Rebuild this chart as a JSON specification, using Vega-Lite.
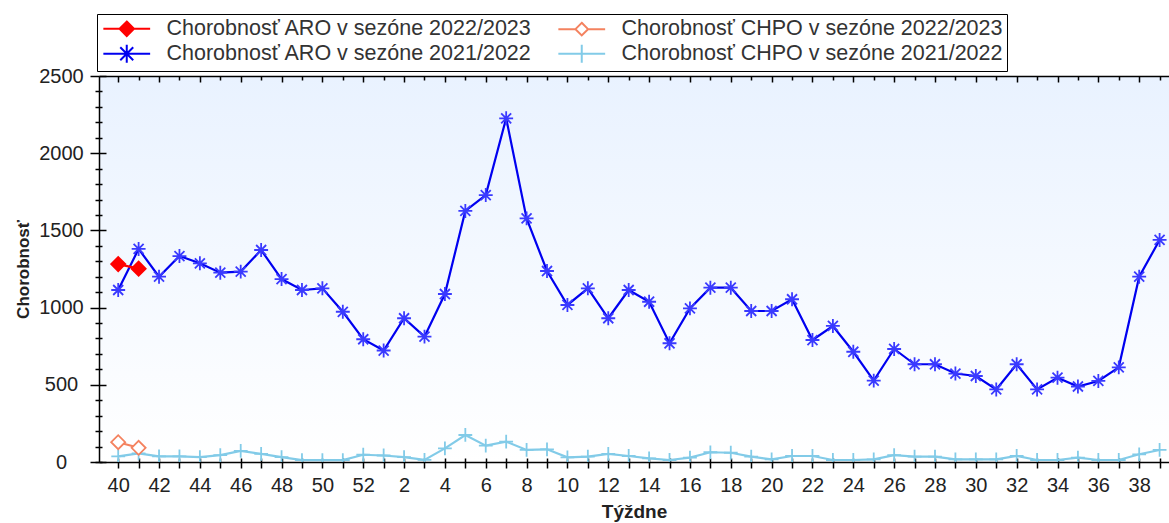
{
  "$schema": "https://vega.github.io/schema/vega-lite/v6.json",
  "width": 1070,
  "height": 386,
  "autosize": {"type": "none"},
  "padding": {"left": 99, "top": 76, "right": 0, "bottom": 61},
  "background": "#ffffff",
  "config": {
    "font": "Liberation Sans",
    "view": {
      "stroke": null,
      "fill": {"gradient": "linear", "x1": 0, "y1": 0, "x2": 0, "y2": 1, "stops": [{"offset": 0, "color": "#e9f2ff"}, {"offset": 1, "color": "#ffffff"}]}
    },
    "axis": {"grid": false, "domainColor": "#000000", "tickColor": "#000000", "domainWidth": 1.5, "tickWidth": 1.5, "labelColor": "#222222", "titleColor": "#222222", "labelFont": "Liberation Sans", "titleFont": "Liberation Sans"}
  },
  "data": {"values": [
    {"i":0,"week":40,"series":"Chorobnosť CHPO v sezóne 2021/2022","value":37},
    {"i":1,"week":41,"series":"Chorobnosť CHPO v sezóne 2021/2022","value":56},
    {"i":2,"week":42,"series":"Chorobnosť CHPO v sezóne 2021/2022","value":37},
    {"i":3,"week":43,"series":"Chorobnosť CHPO v sezóne 2021/2022","value":37},
    {"i":4,"week":44,"series":"Chorobnosť CHPO v sezóne 2021/2022","value":32},
    {"i":5,"week":45,"series":"Chorobnosť CHPO v sezóne 2021/2022","value":45},
    {"i":6,"week":46,"series":"Chorobnosť CHPO v sezóne 2021/2022","value":72},
    {"i":7,"week":47,"series":"Chorobnosť CHPO v sezóne 2021/2022","value":53},
    {"i":8,"week":48,"series":"Chorobnosť CHPO v sezóne 2021/2022","value":32},
    {"i":9,"week":49,"series":"Chorobnosť CHPO v sezóne 2021/2022","value":12},
    {"i":10,"week":50,"series":"Chorobnosť CHPO v sezóne 2021/2022","value":12},
    {"i":11,"week":51,"series":"Chorobnosť CHPO v sezóne 2021/2022","value":12},
    {"i":12,"week":52,"series":"Chorobnosť CHPO v sezóne 2021/2022","value":47},
    {"i":13,"week":1,"series":"Chorobnosť CHPO v sezóne 2021/2022","value":42},
    {"i":14,"week":2,"series":"Chorobnosť CHPO v sezóne 2021/2022","value":32},
    {"i":15,"week":3,"series":"Chorobnosť CHPO v sezóne 2021/2022","value":14},
    {"i":16,"week":4,"series":"Chorobnosť CHPO v sezóne 2021/2022","value":88},
    {"i":17,"week":5,"series":"Chorobnosť CHPO v sezóne 2021/2022","value":175},
    {"i":18,"week":6,"series":"Chorobnosť CHPO v sezóne 2021/2022","value":106},
    {"i":19,"week":7,"series":"Chorobnosť CHPO v sezóne 2021/2022","value":132},
    {"i":20,"week":8,"series":"Chorobnosť CHPO v sezóne 2021/2022","value":78},
    {"i":21,"week":9,"series":"Chorobnosť CHPO v sezóne 2021/2022","value":82},
    {"i":22,"week":10,"series":"Chorobnosť CHPO v sezóne 2021/2022","value":30},
    {"i":23,"week":11,"series":"Chorobnosť CHPO v sezóne 2021/2022","value":35},
    {"i":24,"week":12,"series":"Chorobnosť CHPO v sezóne 2021/2022","value":52},
    {"i":25,"week":13,"series":"Chorobnosť CHPO v sezóne 2021/2022","value":39},
    {"i":26,"week":14,"series":"Chorobnosť CHPO v sezóne 2021/2022","value":24},
    {"i":27,"week":15,"series":"Chorobnosť CHPO v sezóne 2021/2022","value":13},
    {"i":28,"week":16,"series":"Chorobnosť CHPO v sezóne 2021/2022","value":28},
    {"i":29,"week":17,"series":"Chorobnosť CHPO v sezóne 2021/2022","value":63},
    {"i":30,"week":18,"series":"Chorobnosť CHPO v sezóne 2021/2022","value":60},
    {"i":31,"week":19,"series":"Chorobnosť CHPO v sezóne 2021/2022","value":35},
    {"i":32,"week":20,"series":"Chorobnosť CHPO v sezóne 2021/2022","value":17},
    {"i":33,"week":21,"series":"Chorobnosť CHPO v sezóne 2021/2022","value":39},
    {"i":34,"week":22,"series":"Chorobnosť CHPO v sezóne 2021/2022","value":39},
    {"i":35,"week":23,"series":"Chorobnosť CHPO v sezóne 2021/2022","value":13},
    {"i":36,"week":24,"series":"Chorobnosť CHPO v sezóne 2021/2022","value":13},
    {"i":37,"week":25,"series":"Chorobnosť CHPO v sezóne 2021/2022","value":17},
    {"i":38,"week":26,"series":"Chorobnosť CHPO v sezóne 2021/2022","value":45},
    {"i":39,"week":27,"series":"Chorobnosť CHPO v sezóne 2021/2022","value":35},
    {"i":40,"week":28,"series":"Chorobnosť CHPO v sezóne 2021/2022","value":35},
    {"i":41,"week":29,"series":"Chorobnosť CHPO v sezóne 2021/2022","value":17},
    {"i":42,"week":30,"series":"Chorobnosť CHPO v sezóne 2021/2022","value":17},
    {"i":43,"week":31,"series":"Chorobnosť CHPO v sezóne 2021/2022","value":17},
    {"i":44,"week":32,"series":"Chorobnosť CHPO v sezóne 2021/2022","value":39},
    {"i":45,"week":33,"series":"Chorobnosť CHPO v sezóne 2021/2022","value":13},
    {"i":46,"week":34,"series":"Chorobnosť CHPO v sezóne 2021/2022","value":13},
    {"i":47,"week":35,"series":"Chorobnosť CHPO v sezóne 2021/2022","value":28},
    {"i":48,"week":36,"series":"Chorobnosť CHPO v sezóne 2021/2022","value":13},
    {"i":49,"week":37,"series":"Chorobnosť CHPO v sezóne 2021/2022","value":13},
    {"i":50,"week":38,"series":"Chorobnosť CHPO v sezóne 2021/2022","value":50},
    {"i":51,"week":39,"series":"Chorobnosť CHPO v sezóne 2021/2022","value":78},
    {"i":0,"week":40,"series":"Chorobnosť ARO v sezóne 2021/2022","value":1114},
    {"i":1,"week":41,"series":"Chorobnosť ARO v sezóne 2021/2022","value":1380},
    {"i":2,"week":42,"series":"Chorobnosť ARO v sezóne 2021/2022","value":1200},
    {"i":3,"week":43,"series":"Chorobnosť ARO v sezóne 2021/2022","value":1334},
    {"i":4,"week":44,"series":"Chorobnosť ARO v sezóne 2021/2022","value":1287},
    {"i":5,"week":45,"series":"Chorobnosť ARO v sezóne 2021/2022","value":1226},
    {"i":6,"week":46,"series":"Chorobnosť ARO v sezóne 2021/2022","value":1233},
    {"i":7,"week":47,"series":"Chorobnosť ARO v sezóne 2021/2022","value":1373},
    {"i":8,"week":48,"series":"Chorobnosť ARO v sezóne 2021/2022","value":1185},
    {"i":9,"week":49,"series":"Chorobnosť ARO v sezóne 2021/2022","value":1114},
    {"i":10,"week":50,"series":"Chorobnosť ARO v sezóne 2021/2022","value":1125},
    {"i":11,"week":51,"series":"Chorobnosť ARO v sezóne 2021/2022","value":973},
    {"i":12,"week":52,"series":"Chorobnosť ARO v sezóne 2021/2022","value":795},
    {"i":13,"week":1,"series":"Chorobnosť ARO v sezóne 2021/2022","value":722},
    {"i":14,"week":2,"series":"Chorobnosť ARO v sezóne 2021/2022","value":931},
    {"i":15,"week":3,"series":"Chorobnosť ARO v sezóne 2021/2022","value":812},
    {"i":16,"week":4,"series":"Chorobnosť ARO v sezóne 2021/2022","value":1088},
    {"i":17,"week":5,"series":"Chorobnosť ARO v sezóne 2021/2022","value":1626},
    {"i":18,"week":6,"series":"Chorobnosť ARO v sezóne 2021/2022","value":1729},
    {"i":19,"week":7,"series":"Chorobnosť ARO v sezóne 2021/2022","value":2226},
    {"i":20,"week":8,"series":"Chorobnosť ARO v sezóne 2021/2022","value":1578},
    {"i":21,"week":9,"series":"Chorobnosť ARO v sezóne 2021/2022","value":1237},
    {"i":22,"week":10,"series":"Chorobnosť ARO v sezóne 2021/2022","value":1017},
    {"i":23,"week":11,"series":"Chorobnosť ARO v sezóne 2021/2022","value":1125},
    {"i":24,"week":12,"series":"Chorobnosť ARO v sezóne 2021/2022","value":931},
    {"i":25,"week":13,"series":"Chorobnosť ARO v sezóne 2021/2022","value":1114},
    {"i":26,"week":14,"series":"Chorobnosť ARO v sezóne 2021/2022","value":1038},
    {"i":27,"week":15,"series":"Chorobnosť ARO v sezóne 2021/2022","value":769},
    {"i":28,"week":16,"series":"Chorobnosť ARO v sezóne 2021/2022","value":995},
    {"i":29,"week":17,"series":"Chorobnosť ARO v sezóne 2021/2022","value":1129},
    {"i":30,"week":18,"series":"Chorobnosť ARO v sezóne 2021/2022","value":1129},
    {"i":31,"week":19,"series":"Chorobnosť ARO v sezóne 2021/2022","value":978},
    {"i":32,"week":20,"series":"Chorobnosť ARO v sezóne 2021/2022","value":978},
    {"i":33,"week":21,"series":"Chorobnosť ARO v sezóne 2021/2022","value":1054},
    {"i":34,"week":22,"series":"Chorobnosť ARO v sezóne 2021/2022","value":790},
    {"i":35,"week":23,"series":"Chorobnosť ARO v sezóne 2021/2022","value":881},
    {"i":36,"week":24,"series":"Chorobnosť ARO v sezóne 2021/2022","value":714},
    {"i":37,"week":25,"series":"Chorobnosť ARO v sezóne 2021/2022","value":527},
    {"i":38,"week":26,"series":"Chorobnosť ARO v sezóne 2021/2022","value":732},
    {"i":39,"week":27,"series":"Chorobnosť ARO v sezóne 2021/2022","value":633},
    {"i":40,"week":28,"series":"Chorobnosť ARO v sezóne 2021/2022","value":633},
    {"i":41,"week":29,"series":"Chorobnosť ARO v sezóne 2021/2022","value":573},
    {"i":42,"week":30,"series":"Chorobnosť ARO v sezóne 2021/2022","value":557},
    {"i":43,"week":31,"series":"Chorobnosť ARO v sezóne 2021/2022","value":470},
    {"i":44,"week":32,"series":"Chorobnosť ARO v sezóne 2021/2022","value":633},
    {"i":45,"week":33,"series":"Chorobnosť ARO v sezóne 2021/2022","value":470},
    {"i":46,"week":34,"series":"Chorobnosť ARO v sezóne 2021/2022","value":546},
    {"i":47,"week":35,"series":"Chorobnosť ARO v sezóne 2021/2022","value":489},
    {"i":48,"week":36,"series":"Chorobnosť ARO v sezóne 2021/2022","value":525},
    {"i":49,"week":37,"series":"Chorobnosť ARO v sezóne 2021/2022","value":613},
    {"i":50,"week":38,"series":"Chorobnosť ARO v sezóne 2021/2022","value":1200},
    {"i":51,"week":39,"series":"Chorobnosť ARO v sezóne 2021/2022","value":1438},
    {"i":0,"week":40,"series":"Chorobnosť CHPO v sezóne 2022/2023","value":128},
    {"i":1,"week":41,"series":"Chorobnosť CHPO v sezóne 2022/2023","value":92},
    {"i":0,"week":40,"series":"Chorobnosť ARO v sezóne 2022/2023","value":1282},
    {"i":1,"week":41,"series":"Chorobnosť ARO v sezóne 2022/2023","value":1252}
  ]},
  "resolve": {"scale": {"shape": "independent", "stroke": "independent", "fill": "independent"}, "axis": {"x": "independent", "y": "independent"}},
  "layer": [
    {
      "mark": {"type": "line", "clip": true},
      "encoding": {
        "x": {"field": "i", "type": "quantitative", "scale": {"domain": [-0.94, 51.46], "nice": false, "zero": false},
          "axis": {"orient": "bottom", "values": [0,2,4,6,8,10,12,14,16,18,20,22,24,26,28,30,32,34,36,38,40,42,44,46,48,50],
            "labelExpr": "(datum.value <= 12 ? datum.value + 40 : datum.value - 12) + ''",
            "labelFontSize": 20, "labelPadding": 7, "tickSize": 6, "labelFlush": false, "labelOverlap": false,
            "title": "Týždne", "titleFontSize": 19, "titleFontWeight": "bold", "titlePadding": 7}},
        "y": {"field": "value", "type": "quantitative", "scale": {"domain": [0, 2500], "nice": false},
          "axis": {"orient": "left", "values": [0, 500, 1000, 1500, 2000, 2500], "format": "d",
            "tickSize": 9, "labelAlign": "center", "labelBaseline": "middle",
            "labelFontSize": 20, "labelPadding": 29, "labelOverlap": false, "labelFlush": false,
            "title": "Chorobnosť", "titleFontSize": 17, "titleFontWeight": "bold", "titlePadding": 6}},
        "color": {"field": "series", "type": "nominal", "legend": null,
          "scale": {"domain": ["Chorobnosť ARO v sezóne 2022/2023", "Chorobnosť CHPO v sezóne 2022/2023", "Chorobnosť ARO v sezóne 2021/2022", "Chorobnosť CHPO v sezóne 2021/2022"],
            "range": ["#ff0000", "#f4825f", "#0000f0", "#82cbe8"]}},
        "strokeWidth": {"field": "series", "type": "nominal", "legend": null,
          "scale": {"domain": ["Chorobnosť ARO v sezóne 2022/2023", "Chorobnosť CHPO v sezóne 2022/2023", "Chorobnosť ARO v sezóne 2021/2022", "Chorobnosť CHPO v sezóne 2021/2022"],
            "range": [2.2, 2.2, 3.6, 3.4]}}
      }
    },
    {
      "mark": {"type": "point", "clip": true, "opacity": 1, "strokeWidth": 1.8},
      "encoding": {
        "x": {"field": "i", "type": "quantitative",
          "axis": {"orient": "top", "values": [0,2,4,6,8,10,12,14,16,18,20,22,24,26,28,30,32,34,36,38,40,42,44,46,48,50],
            "labels": false, "title": null, "tickSize": -6}},
        "y": {"field": "value", "type": "quantitative",
          "axis": {"orient": "left", "values": [0,100,200,300,400,600,700,800,900,1100,1200,1300,1400,1600,1700,1800,1900,2100,2200,2300,2400],
            "labels": false, "title": null, "domain": false, "tickSize": 4}},
        "shape": {"field": "series", "type": "nominal", "legend": null,
          "scale": {"domain": ["Chorobnosť ARO v sezóne 2022/2023", "Chorobnosť CHPO v sezóne 2022/2023", "Chorobnosť ARO v sezóne 2021/2022", "Chorobnosť CHPO v sezóne 2021/2022"],
            "range": ["diamond", "diamond", "M-1,0H1M0,-1V1M-0.72,-0.72L0.72,0.72M-0.72,0.72L0.72,-0.72", "M-1,0H1M0,-1V1"]}},
        "stroke": {"field": "series", "type": "nominal", "legend": null,
          "scale": {"domain": ["Chorobnosť ARO v sezóne 2022/2023", "Chorobnosť CHPO v sezóne 2022/2023", "Chorobnosť ARO v sezóne 2021/2022", "Chorobnosť CHPO v sezóne 2021/2022"],
            "range": ["#ff0000", "#f4825f", "#3a3aff", "#82cbe8"]}},
        "fill": {"field": "series", "type": "nominal", "legend": null,
          "scale": {"domain": ["Chorobnosť ARO v sezóne 2022/2023", "Chorobnosť CHPO v sezóne 2022/2023", "Chorobnosť ARO v sezóne 2021/2022", "Chorobnosť CHPO v sezóne 2021/2022"],
            "range": ["#ff0000", "#ffffff", "#3a3aff", "#82cbe8"]}},
        "size": {"field": "series", "type": "nominal", "legend": null,
          "scale": {"domain": ["Chorobnosť ARO v sezóne 2022/2023", "Chorobnosť CHPO v sezóne 2022/2023", "Chorobnosť ARO v sezóne 2021/2022", "Chorobnosť CHPO v sezóne 2021/2022"],
            "range": [200, 190, 360, 240]}}
      }
    },
    {
      "transform": [{"filter": "datum.i < 0"}],
      "mark": {"type": "point", "opacity": 1, "strokeWidth": 2},
      "encoding": {
        "x": {"field": "i", "type": "quantitative",
          "axis": {"orient": "top", "values": [1,3,5,7,9,11,13,15,17,19,21,23,25,27,29,31,33,35,37,39,41,43,45,47,49,51],
            "labels": false, "title": null, "domain": false, "tickSize": -4}},
        "y": {"field": "value", "type": "quantitative",
          "axis": {"orient": "left", "values": [0, 500, 1000, 1500, 2000, 2500],
            "labels": false, "title": null, "domain": false, "tickSize": -7}},
        "shape": {"field": "series", "type": "nominal",
          "scale": {"domain": ["Chorobnosť ARO v sezóne 2022/2023", "Chorobnosť CHPO v sezóne 2022/2023", "Chorobnosť ARO v sezóne 2021/2022", "Chorobnosť CHPO v sezóne 2021/2022"],
            "range": ["M-2.6,0H2.6M0,-0.8L0.8,0L0,0.8L-0.8,0Z", "M-2.6,0H-0.7M0.7,0H2.6M0,-0.7L0.7,0L0,0.7L-0.7,0Z", "M-2.6,0H2.6M0,-1V1M-0.72,-0.72L0.72,0.72M-0.72,0.72L0.72,-0.72", "M-2.6,0H2.6M0,-1V1"]},
          "legend": {"title": null, "orient": "none", "legendX": -2, "legendY": -62, "columns": 2, "direction": "horizontal",
            "strokeColor": "#000000", "fillColor": "#ffffff", "padding": 4,
            "labelFont": "Liberation Sans", "labelFontSize": 21.5, "labelColor": "#333333", "labelLimit": 0,
            "symbolSize": 324, "symbolStrokeWidth": 2, "symbolOffset": 15, "labelOffset": 29,
            "columnPadding": 22, "rowPadding": 0}},
        "stroke": {"field": "series", "type": "nominal",
          "scale": {"domain": ["Chorobnosť ARO v sezóne 2022/2023", "Chorobnosť CHPO v sezóne 2022/2023", "Chorobnosť ARO v sezóne 2021/2022", "Chorobnosť CHPO v sezóne 2021/2022"],
            "range": ["#ff0000", "#f4825f", "#0000f0", "#82cbe8"]},
          "legend": {"title": null, "orient": "none", "legendX": -2, "legendY": -62, "columns": 2, "direction": "horizontal",
            "strokeColor": "#000000", "fillColor": "#ffffff", "padding": 4,
            "labelFont": "Liberation Sans", "labelFontSize": 21.5, "labelColor": "#333333", "labelLimit": 0,
            "symbolSize": 324, "symbolStrokeWidth": 2, "symbolOffset": 15, "labelOffset": 29,
            "columnPadding": 22, "rowPadding": 0}},
        "fill": {"field": "series", "type": "nominal",
          "scale": {"domain": ["Chorobnosť ARO v sezóne 2022/2023", "Chorobnosť CHPO v sezóne 2022/2023", "Chorobnosť ARO v sezóne 2021/2022", "Chorobnosť CHPO v sezóne 2021/2022"],
            "range": ["#ff0000", "#ffffff", "#ffffff", "#ffffff"]},
          "legend": {"title": null, "orient": "none", "legendX": -2, "legendY": -62, "columns": 2, "direction": "horizontal",
            "strokeColor": "#000000", "fillColor": "#ffffff", "padding": 4,
            "labelFont": "Liberation Sans", "labelFontSize": 21.5, "labelColor": "#333333", "labelLimit": 0,
            "symbolSize": 324, "symbolStrokeWidth": 2, "symbolOffset": 15, "labelOffset": 29,
            "columnPadding": 22, "rowPadding": 0}}
      }
    },
    {
      "transform": [{"filter": "datum.i < 0"}],
      "mark": {"type": "point"},
      "encoding": {
        "x": {"field": "i", "type": "quantitative",
          "axis": {"orient": "bottom", "values": [0,1,2,3,4,5,6,7,8,9,10,11,12,13,14,15,16,17,18,19,20,21,22,23,24,25,26,27,28,29,30,31,32,33,34,35,36,37,38,39,40,41,42,43,44,45,46,47,48,49,50,51],
            "labels": false, "title": null, "domain": false, "tickSize": -4}},
        "y": {"field": "value", "type": "quantitative",
          "axis": {"orient": "left", "values": [0,100,200,300,400,600,700,800,900,1100,1200,1300,1400,1600,1700,1800,1900,2100,2200,2300,2400],
            "labels": false, "title": null, "domain": false, "tickSize": -3}}
      }
    },
    {
      "transform": [{"filter": "datum.i < 0"}],
      "mark": {"type": "point"},
      "encoding": {
        "x": {"field": "i", "type": "quantitative",
          "axis": {"orient": "bottom", "values": [1,3,5,7,9,11,13,15,17,19,21,23,25,27,29,31,33,35,37,39,41,43,45,47,49,51],
            "labels": false, "title": null, "domain": false, "tickSize": 6}},
        "y": {"field": "value", "type": "quantitative", "axis": null}
      }
    }
  ]
}
